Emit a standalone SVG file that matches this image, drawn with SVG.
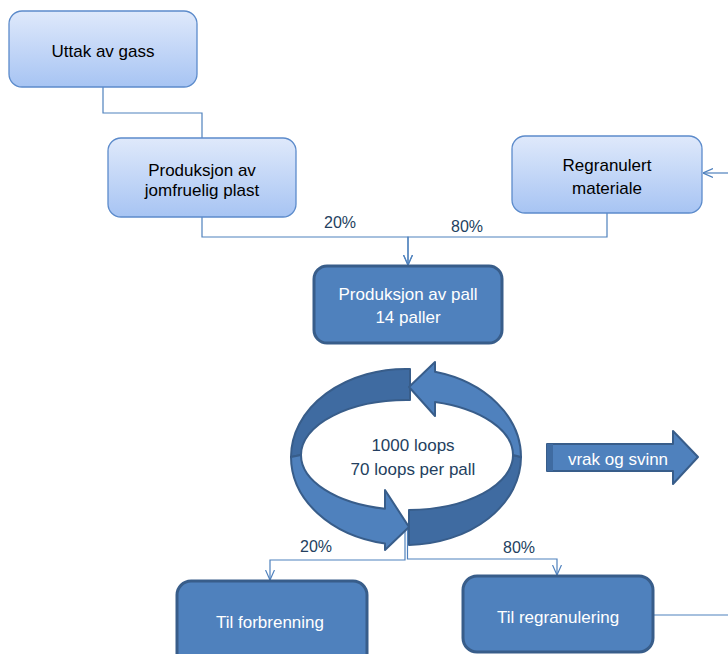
<svg xmlns="http://www.w3.org/2000/svg" width="728" height="654" viewBox="0 0 728 654">
<defs>
<linearGradient id="lg" x1="0" y1="0" x2="0" y2="1">
<stop offset="0" stop-color="#dfe9fb"/>
<stop offset="1" stop-color="#a7c4f3"/>
</linearGradient>
<marker id="ah" viewBox="0 0 10 10" refX="10" refY="5" markerWidth="10" markerHeight="10" markerUnits="userSpaceOnUse" orient="auto">
<path d="M0,0.5 L10,5 L0,9.5" fill="none" stroke="#4f81bd" stroke-width="1.2"/>
</marker>
</defs>
<style>
.light{fill:url(#lg);stroke:#5c8bcb;stroke-width:1.3}
.dark{fill:#4f81bd;stroke:#385d8a;stroke-width:3}
.t{font-family:"Liberation Sans",Arial,sans-serif;font-size:17px;text-anchor:middle}
.tb{fill:#000}
.tw{fill:#fff}
.tn{fill:#243f60}
.pct{font-family:"Liberation Sans",Arial,sans-serif;font-size:16px;text-anchor:middle;fill:#243f60}
.conn{fill:none;stroke:#4f81bd;stroke-width:1.2}
.band{fill:#3f6ba1;stroke:#385d8a;stroke-width:2;stroke-linejoin:round}
.arr{fill:#4f81bd;stroke:#385d8a;stroke-width:2;stroke-linejoin:round}
</style>

<g id="connectors">
<path class="conn" d="M103,87 V113 H202 V138"/>
<path class="conn" d="M202,217 V237 H408 V265" marker-end="url(#ah)"/>
<path class="conn" d="M607,213 V237 H408 V265" marker-end="url(#ah)"/>
<path class="conn" d="M728,173 H703" marker-end="url(#ah)"/>
<path class="conn" d="M405,527 V560 H270 V580" marker-end="url(#ah)"/>
<path class="conn" d="M407.5,527 V559 H557 V575" marker-end="url(#ah)"/>
<path class="conn" d="M654,615 H728"/>
<text class="pct" x="340" y="228">20%</text>
<text class="pct" x="467" y="232">80%</text>
<text class="pct" x="316" y="552">20%</text>
<text class="pct" x="519" y="553">80%</text>
</g>

<g id="uttak">
<rect class="light" x="9" y="11" width="188" height="76" rx="13"/>
<text class="t tb" x="103" y="57">Uttak av gass</text>
</g>

<g id="jomfruelig">
<rect class="light" x="108" y="138" width="188" height="79" rx="13"/>
<text class="t tb" x="202" y="176">Produksjon av</text>
<text class="t tb" x="202" y="196">jomfruelig plast</text>
</g>

<g id="regranulert">
<rect class="light" x="512" y="136" width="190" height="77" rx="13"/>
<text class="t tb" x="607" y="171">Regranulert</text>
<text class="t tb" x="607" y="194">materiale</text>
</g>

<g id="pall">
<rect class="dark" x="314" y="266" width="188" height="77" rx="13"/>
<text class="t tw" x="408" y="300">Produksjon av pall</text>
<text class="t tw" x="408" y="323">14 paller</text>
</g>

<g id="loops">
<path class="band" d="M410,369 A115,88 0 0 0 291,457 L301,455 A106,55 0 0 1 410,400 Z"/>
<path class="band" d="M409,510 L409,545 A115,88 0 0 0 521,457 L513,455 A106,55 0 0 1 409,510 Z"/>
<path class="arr" d="M291,457 A115,88 0 0 0 385,543.5 L385,550 L409,527 L385,490 L385,508.8 A106,55 0 0 1 301,455 Z"/>
<path class="arr" d="M521,457 A115,88 0 0 0 435,371.8 L435,362 L409,387 L435,416 L435,402 A106,55 0 0 1 513,455 Z"/>
<text class="t tn" x="413" y="451">1000 loops</text>
<text class="t tn" x="413" y="475">70 loops per pall</text>
</g>

<g id="vrak">
<path class="arr" d="M547,444 H673 V431 L698,457 L673,484 V471 H547 Z"/>
<rect x="547" y="444" width="6" height="27" fill="#3f6ba1"/>
<text class="t tw" x="618" y="465">vrak og svinn</text>
</g>

<g id="forbrenning">
<rect class="dark" x="177" y="581" width="190" height="90" rx="14"/>
<text class="t tw" x="270" y="628">Til forbrenning</text>
</g>

<g id="regranulering">
<rect class="dark" x="463" y="576" width="190" height="76" rx="14"/>
<text class="t tw" x="558" y="623">Til regranulering</text>
</g>
</svg>
